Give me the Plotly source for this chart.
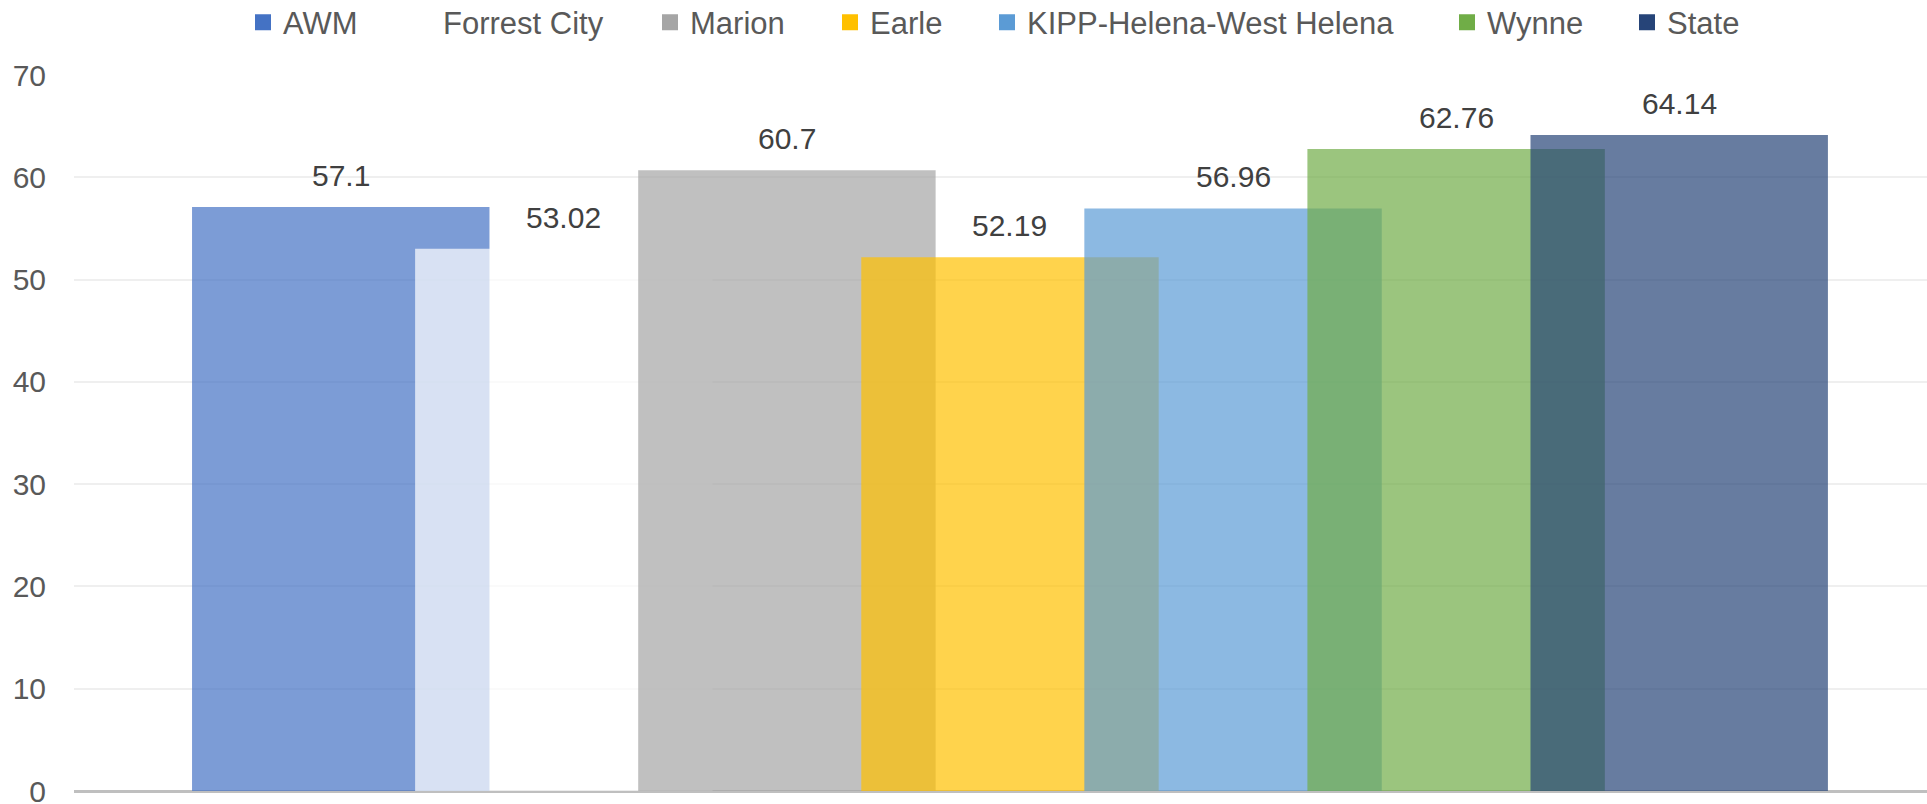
import plotly.graph_objects as go

# ---- data ----
categories = [" "]
series_names = ["AWM", "Forrest City", "Marion", "Earle", "KIPP-Helena-West Helena", "Wynne", "State"]
series_values = [57.1, 53.02, 60.7, 52.19, 56.96, 62.76, 64.14]
series_colors = ["#4472C4", "#FFFFFF", "#A5A5A5", "#FFC000", "#5B9BD5", "#70AD47", "#264478"]
y_ticks = [0, 10, 20, 30, 40, 50, 60, 70]

# ---- styling constants ----
FONT = "Liberation Sans, Arial, sans-serif"
W, H = 1927, 804
ML, MR, MT, MB = 74, 0, 75, 13
BAR_W = 0.16      # bar width in category units
STEP = 0.12       # distance between bar centres (25% overlap)
X_RANGE = [-0.5035, 0.4933]
OPACITY = 0.7
LEGEND_TEXT_PX = [283, 443, 690, 870, 1027, 1487, 1667]  # pixel x where each legend label starts
LEGEND_CENTER_PX = 22.5
n = len(series_names)
plot_w = W - ML - MR
plot_h = H - MT - MB

fig = go.Figure()
for i, (name, val, col) in enumerate(zip(series_names, series_values, series_colors)):
    center = (i - (n - 1) / 2) * STEP
    fig.add_trace(go.Bar(
        x=categories, y=[val], name=name,
        width=BAR_W, offset=center - BAR_W / 2,
        marker=dict(color=col, line=dict(width=0)),
        opacity=OPACITY, showlegend=False, hoverinfo="name+y",
    ))
    fig.add_annotation(
        x=center, y=val, text=f"{val:g}", showarrow=False,
        yanchor="bottom", xanchor="center", yshift=13,
        font=dict(family=FONT, size=30, color="#404040"),
    )

# legend entries with solid swatches (as in the original), each in its own legend box
legend_layout = {}
for i, (name, col) in enumerate(zip(series_names, series_colors)):
    key = "legend" if i == 0 else f"legend{i + 1}"
    fig.add_trace(go.Scatter(
        x=[None], y=[None], name=name, mode="markers",
        marker=dict(symbol="square", size=16, color=col, line=dict(width=0)),
        showlegend=True, legend=key,
    ))
    legend_layout[key] = dict(
        orientation="h", xanchor="left", yanchor="middle",
        x=(LEGEND_TEXT_PX[i] - 40 - ML) / plot_w,
        y=1 + (MT - LEGEND_CENTER_PX) / plot_h,
        font=dict(family=FONT, size=31, color="#595959"),
        bgcolor="rgba(0,0,0,0)", borderwidth=0, itemwidth=30,
    )

fig.update_layout(
    width=W, height=H,
    margin=dict(l=ML, r=MR, t=MT, b=MB, pad=0, autoexpand=False),
    paper_bgcolor="white", plot_bgcolor="white",
    barmode="overlay",
    font=dict(family=FONT, size=30, color="#595959"),
    xaxis=dict(
        type="category", range=X_RANGE, showticklabels=False,
        showgrid=False, zeroline=False, showline=False, ticks="", automargin=False,
    ),
    yaxis=dict(
        range=[0, 70], tickvals=y_ticks, ticks="", automargin=False,
        showgrid=True, gridcolor="#EFEFEF", gridwidth=2,
        zeroline=True, zerolinecolor="#BFBFBF", zerolinewidth=3,
        showline=False, ticklabelstandoff=27, ticklabeloverflow="allow",
        tickfont=dict(family=FONT, size=30, color="#595959"),
    ),
    **legend_layout,
)

fig.write_html("out.html", config={"displayModeBar": False},
               post_script="document.body.style.margin='0';")
